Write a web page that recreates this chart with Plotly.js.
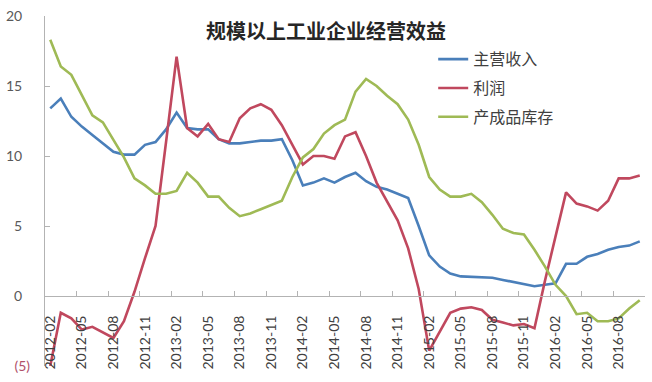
<!DOCTYPE html>
<html>
<head>
<meta charset="utf-8">
<script src="https://cdn.plot.ly/plotly-3.0.1.min.js"></script>
<style>html,body{margin:0;padding:0;background:#fff;}#chart{width:652px;height:382px;}</style>
</head>
<body>
<div id="chart"></div>
<script>
var months = [
  "2012-02","2012-03","2012-04","2012-05","2012-06","2012-07","2012-08","2012-09","2012-10","2012-11","2012-12",
  "2013-01","2013-02","2013-03","2013-04","2013-05","2013-06","2013-07","2013-08","2013-09","2013-10","2013-11","2013-12",
  "2014-01","2014-02","2014-03","2014-04","2014-05","2014-06","2014-07","2014-08","2014-09","2014-10","2014-11","2014-12",
  "2015-01","2015-02","2015-03","2015-04","2015-05","2015-06","2015-07","2015-08","2015-09","2015-10","2015-11","2015-12",
  "2016-01","2016-02","2016-03","2016-04","2016-05","2016-06","2016-07","2016-08","2016-09","2016-10"
];
var revenue = [13.4,14.1,12.8,12.1,11.5,10.9,10.3,10.1,10.1,10.8,11.0,
  11.9,13.1,12.0,11.9,11.9,11.2,10.9,10.9,11.0,11.1,11.1,11.2,
  9.7,7.9,8.1,8.4,8.1,8.5,8.8,8.2,7.8,7.6,7.3,7.0,
  5.0,2.9,2.1,1.6,1.4,1.35,1.35,1.3,1.15,1.0,0.9,0.7,
  0.8,0.9,2.3,2.3,2.8,3.0,3.3,3.5,3.6,3.9];
var profit = [-5.0,-1.2,-1.6,-2.4,-2.2,-2.6,-3.0,-1.8,0.3,2.7,5.0,
  11.0,17.1,12.0,11.4,12.3,11.2,11.0,12.7,13.4,13.7,13.3,12.2,
  10.8,9.4,10.0,10.0,9.8,11.4,11.7,10.0,8.1,6.8,5.4,3.4,
  0.5,-3.9,-2.5,-1.2,-0.9,-0.8,-1.0,-1.7,-1.9,-2.1,-2.0,-2.3,
  1.1,4.3,7.4,6.6,6.4,6.1,6.8,8.4,8.4,8.6];
var inventory = [18.3,16.4,15.8,14.3,12.9,12.4,11.2,9.9,8.4,7.9,7.3,
  7.3,7.5,8.8,8.1,7.1,7.1,6.3,5.7,5.9,6.2,6.5,6.8,
  8.5,9.9,10.5,11.6,12.2,12.6,14.6,15.5,15.0,14.3,13.7,12.6,
  10.8,8.5,7.6,7.1,7.1,7.3,6.7,5.8,4.8,4.5,4.4,3.3,
  2.1,0.8,0.0,-1.3,-1.2,-1.8,-1.8,-1.6,-0.9,-0.3];
var seriesNames = ["主营收入","利润","产成品库存"];
var yTickVals = [0,5,10,15,20];
var yTickText = ['0','5','10','15','20'];
var yNegTickVals = [-5];
var yNegTickText = ['(5)'];

var colors = ['#4a7fba','#c0485e','#9fba55'];
var data = [revenue, profit, inventory].map(function(v, i){
  return {x: months, y: v, type: 'scatter', mode: 'lines', name: seriesNames[i],
          legendgroup: 'g' + i,
          line: {color: colors[i], width: 2.6}};
});
// invisible helper trace to carry the secondary y axis (negative tick label)
data.push({x: [months[0]], y: [yNegTickVals[0]], yaxis: 'y2', type: 'scatter', mode: 'markers',
           marker: {opacity: 0}, showlegend: false, hoverinfo: 'skip'});

var font = "Lato, 'Noto Sans CJK SC', sans-serif";
var layout = {
  width: 652, height: 382,
  margin: {l: 45, r: 7, t: 16, b: 16},
  paper_bgcolor: '#fff', plot_bgcolor: '#fff',
  font: {family: font, color: '#404040'},
  showlegend: true,
  title: {text: '<b>规模以上工业企业经营效益</b>', x: 0.5, xref: 'container', xanchor: 'center',
          y: 0.916, yref: 'container', yanchor: 'middle',
          font: {family: "'Noto Sans CJK SC', sans-serif", size: 20, color: '#262626'}},
  legend: {x: 0.647, xanchor: 'left', y: 0.925, yanchor: 'top', bgcolor: 'rgba(0,0,0,0)',
           traceorder: 'grouped', tracegroupgap: 5,
           font: {family: "'Noto Sans CJK SC', sans-serif", size: 16, color: '#404040'}},
  xaxis: {type: 'category', range: [-0.5, months.length - 0.5],
          anchor: 'free', position: 0.2,
          showline: true, linecolor: '#b3b3b3', linewidth: 1,
          ticks: 'inside', ticklen: 5, tickcolor: '#b3b3b3', tickson: 'boundaries',
          dtick: 3, tick0: 0, tickangle: -90, ticklabelstandoff: 13,
          tickfont: {family: font, size: 14, color: '#404040'},
          showgrid: false, zeroline: false},
  yaxis: {range: [-5, 20], tickvals: yTickVals, ticktext: yTickText,
          showline: true, linecolor: '#b3b3b3', linewidth: 1,
          ticks: 'inside', ticklen: 5, tickcolor: '#b3b3b3', ticklabelstandoff: 19,
          tickfont: {family: font, size: 14, color: '#595959'},
          showgrid: false, zeroline: false},
  yaxis2: {range: [-5, 20], overlaying: 'y', side: 'left', anchor: 'x',
           tickvals: yNegTickVals, ticktext: yNegTickText,
           showline: false, ticks: '', ticklabelstandoff: 14,
           tickfont: {family: font, size: 14, color: '#b0506a'},
           showgrid: false, zeroline: false}
};
Plotly.newPlot('chart', data, layout, {displayModeBar: false, staticPlot: true});
</script>
</body>
</html>
